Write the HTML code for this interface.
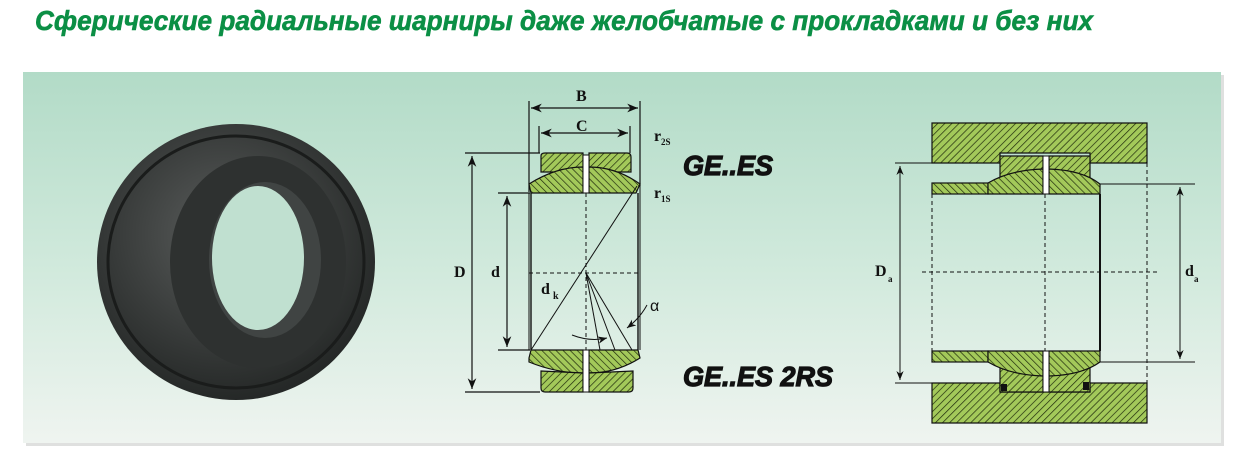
<!DOCTYPE html>
<html><head><meta charset="utf-8"><style>
html,body{margin:0;padding:0;background:#fff;width:1253px;height:456px;overflow:hidden}
svg{display:block}
</style></head><body>
<svg width="1253" height="456" viewBox="0 0 1253 456" xmlns="http://www.w3.org/2000/svg" font-family="Liberation Serif, serif">
<defs>
<linearGradient id="bg" x1="0" y1="0" x2="0" y2="1">
<stop offset="0" stop-color="#b2dbc7"/><stop offset="0.55" stop-color="#d2eadd"/><stop offset="1" stop-color="#eff4f0"/>
</linearGradient>
<pattern id="h" width="5" height="5" patternUnits="userSpaceOnUse" patternTransform="rotate(45)">
<rect width="5" height="5" fill="#a3c95a"/><line x1="0" y1="0" x2="0" y2="5" stroke="#1f2a0c" stroke-width="1.4"/>
</pattern>
<pattern id="h2" width="5" height="5" patternUnits="userSpaceOnUse" patternTransform="rotate(-45)">
<rect width="5" height="5" fill="#a3c95a"/><line x1="0" y1="0" x2="0" y2="5" stroke="#1f2a0c" stroke-width="1.4"/>
</pattern>
<radialGradient id="ring" cx="0.45" cy="0.4" r="0.6">
<stop offset="0" stop-color="#5a5d5c"/><stop offset="1" stop-color="#252827"/>
</radialGradient>
<marker id="a" viewBox="0 0 10 10" refX="10" refY="5" markerWidth="9" markerHeight="9" orient="auto-start-reverse"><path d="M0,1 L10,5 L0,9 L3,5z" fill="#111"/></marker>
</defs>
<text x="35" y="30" font-family="Liberation Sans, sans-serif" font-style="italic" font-weight="bold" font-size="28" fill="#0b8f45" stroke="#0b8f45" stroke-width="0.6" textLength="1058" lengthAdjust="spacingAndGlyphs">Сферические радиальные шарниры даже желобчатые с прокладками и без них</text>
<rect x="26" y="75" width="1198" height="371" fill="#c9ccca" opacity="0.6"/>
<rect x="23" y="72" width="1198" height="371" fill="url(#bg)"/>
<!-- photo -->
<ellipse cx="236" cy="262" rx="139" ry="138" fill="url(#ring)"/>
<ellipse cx="236" cy="262" rx="128" ry="126" fill="none" stroke="#1a1c1b" stroke-width="3"/>
<ellipse cx="258" cy="262" rx="88" ry="106" fill="#2e3130"/>
<ellipse cx="265" cy="260" rx="56" ry="78" fill="#404443"/>
<ellipse cx="258" cy="258" rx="46" ry="72" fill="#c0e0d0"/>
<!-- middle diagram -->
<g stroke="#111" stroke-width="1.2" fill="none">
<line x1="529" y1="101" x2="529" y2="192"/><line x1="640" y1="101" x2="640" y2="186"/>
<line x1="539" y1="126" x2="539" y2="153"/><line x1="630" y1="126" x2="630" y2="153"/>
<line x1="531" y1="108" x2="638" y2="108" marker-start="url(#a)" marker-end="url(#a)"/>
<line x1="541" y1="133" x2="628" y2="133" marker-start="url(#a)" marker-end="url(#a)"/>
<line x1="465" y1="153" x2="540" y2="153"/><line x1="465" y1="392" x2="540" y2="392"/>
<line x1="472" y1="156" x2="472" y2="389" marker-start="url(#a)" marker-end="url(#a)"/>
<line x1="498" y1="193" x2="530" y2="193"/><line x1="498" y1="350" x2="530" y2="350"/>
<line x1="507" y1="196" x2="507" y2="347" marker-start="url(#a)" marker-end="url(#a)"/>
</g>
<path d="M541,156 Q541,153 545,153 L583,153 L583,172 L541,172Z M589,153 L627,153 Q631,153 631,157 L631,172 L589,172Z" fill="url(#h)" stroke="#111" stroke-width="1.2"/>
<path d="M529,184 Q556,167 583,167 L583,193 L531,193 Z M589,167 Q616,167 640,184 L636,193 L589,193Z" fill="url(#h2)" stroke="#111" stroke-width="1.2"/>
<path d="M529,358 L531,350 L583,350 L583,373 Q556,373 529,362Z M589,350 L638,350 L640,358 Q616,373 589,373Z" fill="url(#h2)" stroke="#111" stroke-width="1.2"/>
<path d="M541,371 L583,373 L583,392 L545,392 Q541,392 541,388Z M589,373 L633,371 L633,388 Q633,392 629,392 L589,392Z" fill="url(#h)" stroke="#111" stroke-width="1.2"/>
<rect x="583" y="155" width="6" height="38" fill="#fff" stroke="#111"/>
<rect x="583" y="350" width="6" height="42" fill="#fff" stroke="#111"/>
<g stroke="#111" stroke-width="1.4" fill="none">
<line x1="531" y1="193" x2="531" y2="350"/><line x1="638" y1="193" x2="638" y2="350"/>
<line x1="529" y1="193" x2="529" y2="350" stroke-width="1"/><line x1="640" y1="186" x2="640" y2="350" stroke-width="1"/>
</g>
<g stroke="#111" stroke-width="1">
<line x1="586" y1="193" x2="586" y2="350" stroke-dasharray="4,3"/>
<line x1="529" y1="273" x2="640" y2="273" stroke-dasharray="4,3"/>
<line x1="531" y1="350" x2="637" y2="186"/>
<line x1="586" y1="273" x2="632" y2="350"/>
<line x1="586" y1="273" x2="615" y2="350"/>
<line x1="586" y1="273" x2="600" y2="350"/>
<path d="M572,335 Q590,342 607,338" fill="none" marker-end="url(#a)"/>
<path d="M647,305 Q640,318 627,328" fill="none" marker-end="url(#a)"/>
</g>
<g font-weight="bold" font-size="16" fill="#111">
<text x="576" y="101">B</text><text x="576" y="131">C</text>
<text x="454" y="277">D</text><text x="491" y="277">d</text>
<text x="541" y="294">d</text><text x="553" y="299" font-size="10">k</text>
<text x="654" y="141">r</text><text x="661" y="145" font-size="9">2S</text>
<text x="654" y="198">r</text><text x="661" y="202" font-size="9">1S</text>
</g>
<text x="650" y="311" font-family="Liberation Sans, sans-serif" font-size="16" fill="#111">α</text>
<g font-family="Liberation Sans, sans-serif" font-style="italic" font-weight="bold" font-size="28" fill="#111" stroke="#111" stroke-width="1.2">
<text x="683" y="175" textLength="90" lengthAdjust="spacingAndGlyphs">GE..ES</text><text x="683" y="386" textLength="150" lengthAdjust="spacingAndGlyphs">GE..ES 2RS</text>
</g>
<!-- right diagram -->
<path d="M932,123 L1147,123 L1147,163 L1090,163 L1090,153 L1000,153 L1000,163 L932,163Z" fill="url(#h)" stroke="#111" stroke-width="1.2"/>
<path d="M932,383 L1000,383 L1000,392 L1090,392 L1090,383 L1147,383 L1147,423 L932,423Z" fill="url(#h)" stroke="#111" stroke-width="1.2"/>
<rect x="932" y="183" width="56" height="11" fill="url(#h2)" stroke="#111" stroke-width="1.2"/>
<rect x="932" y="351" width="56" height="11" fill="url(#h2)" stroke="#111" stroke-width="1.2"/>
<path d="M1000,156 L1043,156 L1043,176 Q1020,174 1000,180Z M1049,156 L1090,156 L1090,181 Q1070,174 1049,174Z" fill="url(#h)" stroke="#111" stroke-width="1.2"/>
<path d="M1000,392 L1043,392 L1043,370 Q1020,371 1000,366Z M1049,392 L1090,392 L1090,366 Q1070,372 1049,372Z" fill="url(#h)" stroke="#111" stroke-width="1.2"/>
<path d="M988,183 Q1010,170 1043,169 L1043,194 L988,194Z M1049,169 Q1082,170 1100,184 L1100,194 L1049,194Z" fill="url(#h2)" stroke="#111" stroke-width="1.2"/>
<path d="M988,351 L1043,351 L1043,376 Q1010,375 988,362Z M1049,351 L1100,351 L1100,362 Q1082,375 1049,376Z" fill="url(#h2)" stroke="#111" stroke-width="1.2"/>
<rect x="1043" y="156" width="6" height="38" fill="#fff" stroke="#111"/>
<rect x="1043" y="351" width="6" height="41" fill="#fff" stroke="#111"/>
<rect x="1001" y="384" width="6" height="7" fill="#111"/><rect x="1083" y="382" width="6" height="8" fill="#111"/>
<line x1="1100" y1="194" x2="1100" y2="351" stroke="#111" stroke-width="2"/>
<g stroke="#111" stroke-width="1" fill="none">
<line x1="932" y1="194" x2="932" y2="351" stroke-dasharray="4,3"/>
<line x1="1147" y1="163" x2="1147" y2="383" stroke-dasharray="4,3"/>
<line x1="1045" y1="194" x2="1045" y2="351" stroke-dasharray="4,3"/>
<line x1="922" y1="272" x2="1157" y2="272" stroke-dasharray="4,3"/>
<line x1="895" y1="163" x2="932" y2="163"/><line x1="895" y1="383" x2="1000" y2="383"/>
<line x1="900" y1="166" x2="900" y2="380" marker-start="url(#a)" marker-end="url(#a)"/>
<line x1="1100" y1="184" x2="1195" y2="184"/><line x1="1100" y1="362" x2="1195" y2="362"/>
<line x1="1180" y1="187" x2="1180" y2="359" marker-start="url(#a)" marker-end="url(#a)"/>
</g>
<g font-weight="bold" font-size="16" fill="#111">
<text x="875" y="276">D</text><text x="888" y="282" font-size="9">a</text>
<text x="1185" y="276">d</text><text x="1194" y="282" font-size="9">a</text>
</g>
</svg>
</body></html>
